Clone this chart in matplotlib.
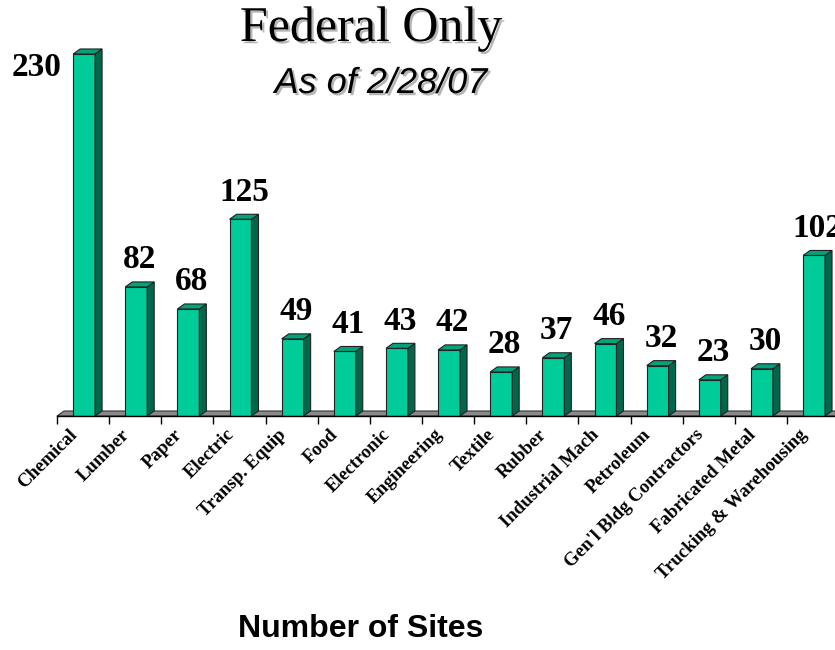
import matplotlib
matplotlib.use("Agg")
import matplotlib.pyplot as plt
import matplotlib.patheffects as pe
from matplotlib.patches import Polygon

# ---------------------------------------------------------------------------
# data
# ---------------------------------------------------------------------------
categories = ["Chemical", "Lumber", "Paper", "Electric", "Transp. Equip", "Food",
              "Electronic", "Engineering", "Textile", "Rubber", "Industrial Mach",
              "Petroleum", "Gen'l Bldg Contractors", "Fabricated Metal",
              "Trucking & Warehousing"]
sites = [230, 82, 68, 125, 49, 41, 43, 42, 28, 37, 46, 32, 23, 30, 102]

title = "Federal Only"
subtitle = "As of 2/28/07"
footer = "Number of Sites"

# ---------------------------------------------------------------------------
# style
# ---------------------------------------------------------------------------
FRONT = "#00cc99"
SIDE = "#00664c"
TOP = "#00a37a"
FLOOR = "#8a8a8a"
SERIF = ["Liberation Serif", "DejaVu Serif"]
SANS = ["Liberation Sans", "DejaVu Sans"]

W, H, DPI = 835, 650, 100
PX_X = 52.14          # px per category slot
PX_Y = 1.574          # px per site
DX = 7 / PX_X         # 3d depth offsets, data units
DY = 5 / PX_Y
BAR_L, BAR_W = -0.19, 0.42

fig = plt.figure(figsize=(W / DPI, H / DPI), dpi=DPI)
ax = fig.add_axes([57 / W, 234 / H, 15 * PX_X / W, 250 * PX_Y / H])
ax.set_xlim(-0.5, 14.5)
ax.set_ylim(0, 250)
for s in ("top", "right", "left"):
    ax.spines[s].set_visible(False)
ax.spines["bottom"].set_linewidth(1.0)
ax.spines["bottom"].set_zorder(5)
ax.set_yticks([])
ax.set_xticks([i - 0.5 for i in range(len(categories) + 1)])
ax.set_xticklabels([])
ax.tick_params(axis="x", length=5.8, width=1.0, direction="out")

# floor slab
ax.add_patch(Polygon([(-0.5, 0), (-0.5 + DX, DY), (15, DY), (15, 0)],
                     closed=True, fc=FLOOR, ec="#333333", lw=0.8,
                     zorder=1, clip_on=False))

# bars: front faces through the axes, side/top faces as polygons
xs = [i + BAR_L for i in range(len(sites))]
ax.bar(xs, sites, width=BAR_W, align="edge", color=FRONT,
       edgecolor="#222222", linewidth=0.8, zorder=3)
for x, v in zip(xs, sites):
    r = x + BAR_W
    ax.add_patch(Polygon([(r, 0), (r + DX, DY), (r + DX, v + DY), (r, v)],
                         closed=True, fc=SIDE, ec="#222222", lw=0.8, zorder=3))
    ax.add_patch(Polygon([(x, v), (x + DX, v + DY), (r + DX, v + DY), (r, v)],
                         closed=True, fc=TOP, ec="#222222", lw=0.8, zorder=3))

# value labels
for i, (x, v) in enumerate(zip(xs, sites)):
    cx = x + BAR_W / 2 + DX / 2
    if i == 0:
        ax.annotate(str(v), (x + BAR_W / 2, v), xytext=(-48, -14),
                    textcoords="offset pixels", ha="center", va="center",
                    fontsize=24, fontweight="bold", family=SERIF,
                    annotation_clip=False)
    else:
        ax.annotate(str(v), (cx, v), xytext=(0, 27),
                    textcoords="offset pixels", ha="center", va="center",
                    fontsize=24, fontweight="bold", family=SERIF,
                    annotation_clip=False)

# category labels, rotated 45 deg
for i, name in enumerate(categories):
    ax.annotate(name, (i, 0), xytext=(-8, -16), textcoords="offset pixels",
                ha="right", va="center", rotation=45, rotation_mode="anchor",
                fontsize=13.5, fontweight="bold", family=SERIF,
                annotation_clip=False)

shadow = [pe.SimplePatchShadow(offset=(1.6, -1.6), shadow_rgbFace="#b5b5b5",
                               alpha=1.0), pe.Normal()]
fig.text(371 / W, 1 - 41 / H, title, ha="center", va="baseline",
         fontsize=36, family=SERIF, path_effects=shadow)
fig.text(381 / W, 1 - 93 / H, subtitle, ha="center", va="baseline",
         fontsize=26, style="italic", family=SANS, path_effects=shadow)
fig.text(361 / W, 1 - 637 / H, footer, ha="center", va="baseline",
         fontsize=23, fontweight="bold", family=SANS)

fig.savefig("out.png", dpi=DPI)
